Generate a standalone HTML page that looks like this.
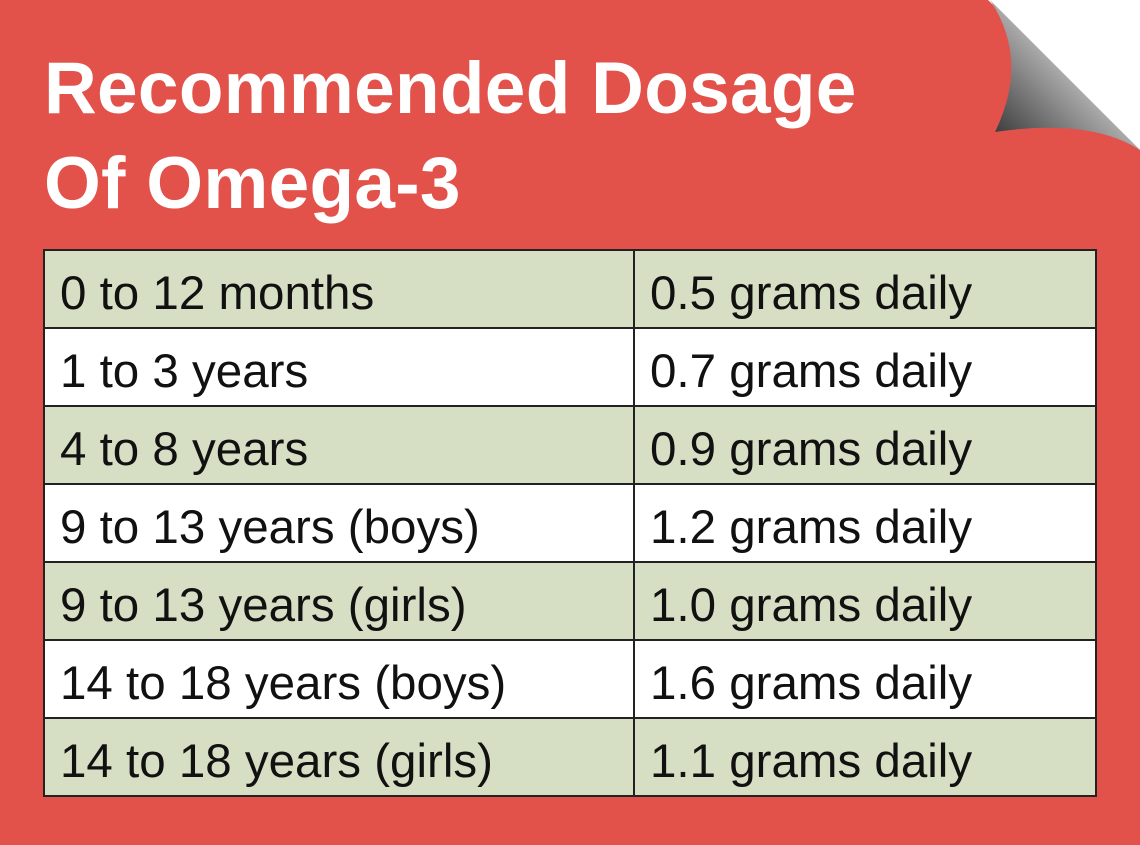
<!DOCTYPE html>
<html><head><style>
body{margin:0;width:1140px;height:845px;overflow:hidden;background:#e2524a;position:relative;font-family:"Liberation Sans",sans-serif}
.t{position:absolute;left:44px;color:#fff;font-weight:bold;font-size:73px;line-height:1;white-space:nowrap;letter-spacing:0.3px}
table{position:absolute;left:43px;top:249px;border-collapse:collapse;width:1054px}
td{border:2px solid #222;height:78px;box-sizing:border-box;font-size:47.5px;color:#111;padding:10px 0 0 15px;vertical-align:middle;line-height:1}
tr:nth-child(odd) td{background:#d6dfc4}
tr:nth-child(even) td{background:#fff}
td:first-child{width:590px}
</style></head><body>
<svg style="position:absolute;left:0;top:0" width="1140" height="845">
<defs><linearGradient id="g" x1="0" y1="1" x2="1" y2="0"><stop offset="0" stop-color="#2a2a2a"/><stop offset="0.5" stop-color="#aaa"/><stop offset="1" stop-color="#eee"/></linearGradient></defs>
<path d="M988,0 L1140,0 L1140,150 Z" fill="#fff"/>
<path d="M990,0 Q1030,60 995,132 Q1090,118 1140,150 Z" fill="url(#g)"/>
</svg>
<div class="t" style="top:52px">Recommended Dosage</div>
<div class="t" style="top:147px">Of Omega-3</div>
<table>
<tr><td>0 to 12 months</td><td>0.5 grams daily</td></tr>
<tr><td>1 to 3 years</td><td>0.7 grams daily</td></tr>
<tr><td>4 to 8 years</td><td>0.9 grams daily</td></tr>
<tr><td>9 to 13 years (boys)</td><td>1.2 grams daily</td></tr>
<tr><td>9 to 13 years (girls)</td><td>1.0 grams daily</td></tr>
<tr><td>14 to 18 years (boys)</td><td>1.6 grams daily</td></tr>
<tr><td>14 to 18 years (girls)</td><td>1.1 grams daily</td></tr>
</table>
</body></html>
